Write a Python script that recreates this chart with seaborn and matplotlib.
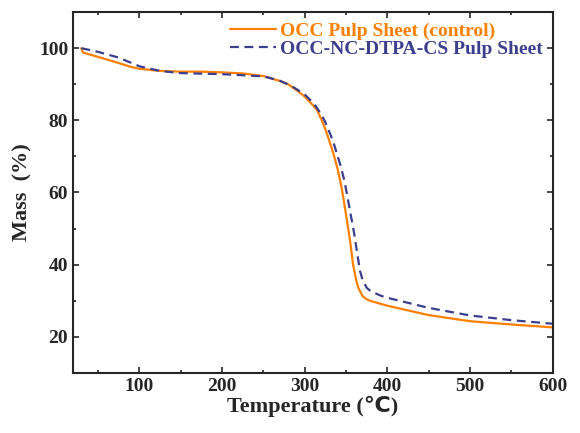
import matplotlib
matplotlib.use('Agg')
import matplotlib.pyplot as plt
import seaborn as sns
import pandas as pd
from matplotlib.ticker import MultipleLocator

# TGA curves
temp_control = [30, 32, 50, 75, 90, 100, 125, 150, 175, 200, 225, 250, 270, 280, 290, 300, 310, 315,
                320, 325, 330, 335, 340, 345, 350, 355, 358.6, 362, 365, 370, 375, 380, 400,
                450, 500, 550, 600]
mass_control = [100, 98.8, 97.6, 95.9, 94.8, 94.3, 93.7, 93.5, 93.5, 93.3, 93.0, 92.3, 90.9, 90.0, 88.4, 86.6, 84.2, 82.8,
                80.4, 77.6, 74.2, 70.6, 66.4, 61.0, 54.0, 46.5, 40.0, 36.0, 33.5, 31.3, 30.4, 29.9, 28.6,
                26.0, 24.3, 23.4, 22.6]

temp_mod = [30, 50, 75, 100, 125, 150, 200, 250, 270, 285, 300, 312, 320, 325, 332, 336, 340,
            344, 348, 352, 356, 360, 364, 367, 370, 375, 380, 393, 400, 450, 500, 550, 600]
mass_mod = [100, 99.0, 97.4, 95.0, 93.7, 93.1, 92.8, 92.2, 91.0, 89.4, 87.2, 84.4, 81.7, 79.5, 75.6, 73.0, 70.0,
            67.0, 63.3, 58.5, 53.5, 48.5, 42.5, 38.2, 35.8, 33.6, 32.6, 31.3, 30.8, 28.0, 25.9, 24.6, 23.6]

labels = ['OCC Pulp Sheet (control)', 'OCC-NC-DTPA-CS Pulp Sheet']
colors = ['#FF8000', '#3B3F8E']

df = pd.concat([
    pd.DataFrame({'Temperature': temp_control, 'Mass': mass_control, 'Sample': labels[0]}),
    pd.DataFrame({'Temperature': temp_mod, 'Mass': mass_mod, 'Sample': labels[1]}),
])

sns.set_style('ticks')
plt.rcParams['font.family'] = ['Liberation Serif', 'DejaVu Sans']
plt.rcParams['font.weight'] = 'bold'

fig = plt.figure(figsize=(5.8, 4.33), dpi=100)
ax = fig.add_axes([0.126, 0.139, 0.827, 0.833])

sns.lineplot(data=df, x='Temperature', y='Mass', hue='Sample', style='Sample',
             palette=colors, dashes=[(None, None), (4, 2.5)], linewidth=1.6,
             sort=False, ax=ax)

ax.set_xlim(20, 600)
ax.set_ylim(10, 110)
ax.xaxis.set_major_locator(MultipleLocator(100))
ax.xaxis.set_minor_locator(MultipleLocator(50))
ax.yaxis.set_major_locator(MultipleLocator(20))
ax.yaxis.set_minor_locator(MultipleLocator(10))
ax.tick_params(which='both', direction='in', top=True, right=True, labelsize=14, width=1.2)
ax.tick_params(which='major', length=4)
ax.tick_params(which='minor', length=2.5)
for lbl in ax.get_xticklabels() + ax.get_yticklabels():
    lbl.set_fontweight('bold')
for sp in ax.spines.values():
    sp.set_linewidth(1.5)

ax.set_xlabel('Temperature (℃)', fontsize=16, fontweight='bold', labelpad=1)
ax.set_ylabel('Mass  (%)', fontsize=16, fontweight='bold', labelpad=5)

leg = ax.legend(loc='upper right', frameon=False, handlelength=2.4,
                handletextpad=0.2, labelspacing=0.05, borderaxespad=0.3,
                borderpad=0.2, prop={'weight': 'bold', 'size': 14})
for txt, c in zip(leg.get_texts(), colors):
    txt.set_color(c)

fig.savefig('out.png', dpi=100)
